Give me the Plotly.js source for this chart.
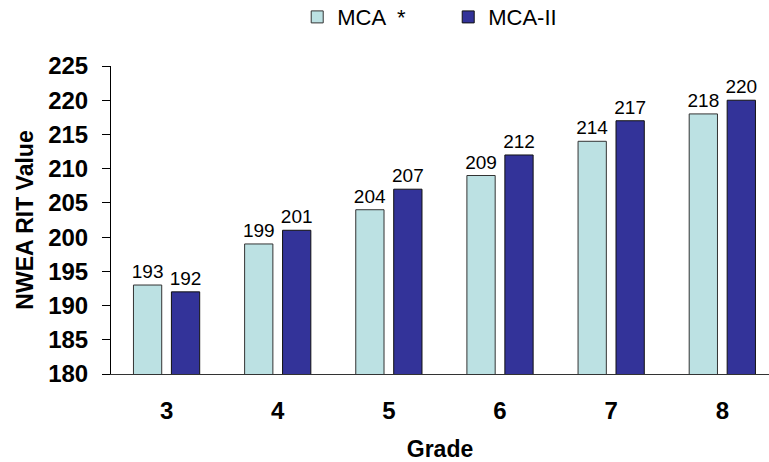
<!DOCTYPE html>
<html><head><meta charset="utf-8">
<script src="https://cdn.plot.ly/plotly-3.0.1.min.js"></script>
<style>html,body{margin:0;padding:0;background:#fff}</style>
</head><body>
<div id="chart" style="width:769px;height:462px"></div>
<script>
const grades = ["3","4","5","6","7","8"];
const mcaValues = [193,199,204,209,214,218];
const mca2Values = [192,201,207,212,217,220];
const yTicks = [180,185,190,195,200,205,210,215,220,225];

const FAM = "Liberation Sans, Arial, sans-serif";
const labelFont = {family:FAM, size:19, color:"#000"};
const traces = [
  {type:"bar", name:"MCA  *", x:grades, y:mcaValues, text:mcaValues.map(String),
   textposition:"outside", textfont:labelFont, cliponaxis:false, constraintext:"none",
   marker:{color:"#BCE1E3", line:{color:"#333", width:1}}},
  {type:"bar", name:"MCA-II", x:grades, y:mca2Values, text:mca2Values.map(String),
   textposition:"outside", textfont:labelFont, cliponaxis:false, constraintext:"none",
   marker:{color:"#333399", line:{color:"#111", width:1}}}
];
const tickFont = {family:FAM, size:24, color:"#000", weight:"bold"};
const titleFont = {family:FAM, size:23, color:"#000", weight:"bold"};
const layout = {
  width:769, height:462,
  margin:{l:111, r:0, t:66, b:88, autoexpand:false},
  paper_bgcolor:"#fff", plot_bgcolor:"#fff",
  barmode:"group", bargap:0.317, bargroupgap:0.255,
  showlegend:true,
  legend:{orientation:"h", x:0.283, xanchor:"left", yref:"container", y:0.963, yanchor:"middle",
    font:{family:FAM, size:22, color:"#000"},
    itemwidth:30, traceorder:"normal", entrywidth:106},
  xaxis:{type:"category", range:[-0.5, 5.42], showline:true, linecolor:"#333", linewidth:1,
    ticks:"", tickfont:tickFont, showgrid:false, zeroline:false, ticklabelstandoff:15,
    title:{text:"Grade", font:titleFont, standoff:24}},
  yaxis:{range:[180,225], tickvals:yTicks, showline:true, linecolor:"#000", linewidth:1,
    ticks:"outside", ticklen:8, tickcolor:"#000", tickfont:tickFont, showgrid:false, zeroline:false,
    ticklabelstandoff:9,
    title:{text:"NWEA RIT Value", font:titleFont, standoff:8}}
};
Plotly.newPlot("chart", traces, layout, {displayModeBar:false, staticPlot:true});
</script>
</body></html>
